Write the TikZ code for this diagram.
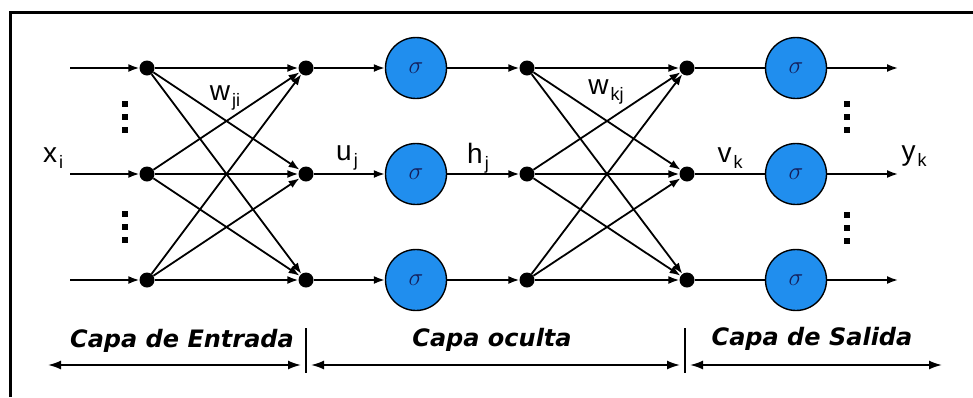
\documentclass[tikz,border=0pt]{standalone}
\usepackage{fontspec}
\setmainfont{Liberation Sans}
\newfontfamily\capfont{DejaVu Sans}
\usetikzlibrary{arrows.meta,positioning}
\definecolor{neuron}{RGB}{32,142,238}
\definecolor{sigink}{RGB}{20,30,90}
\newcommand{\sublbl}[2]{#1\kern2pt\raisebox{-6pt}{\fontsize{18}{18}\selectfont #2}}
\newcommand{\sqdot}{\rule{6pt}{6pt}}

\begin{document}
\begin{tikzpicture}[x=1pt,y=-1pt,
  font=\fontsize{28}{30}\selectfont,
  dot/.style={circle,fill=black,inner sep=0pt,minimum size=15pt},
  neu/.style={circle,draw=black,line width=1.4pt,fill=neuron,minimum size=61pt,inner sep=0pt,font=\fontsize{26}{26}\selectfont\color{sigink}},
  lbl/.style={inner sep=0pt},
  dts/.style={align=center,inner sep=0pt,font=\fontsize{13}{13}\selectfont},
  capt/.style={inner sep=0pt,font=\capfont\bfseries\itshape\fontsize{24}{26}\selectfont},
  arr/.style={-{Latex[length=11pt,width=8pt]},line width=1.8pt},
  ln/.style={line width=1.8pt},
  dim/.style={{Latex[length=13pt,width=9pt]}-{Latex[length=13pt,width=9pt]},line width=1.8pt}]
\useasboundingbox (0,0) rectangle (973,397);
% frame (cut off at right and bottom)
\draw[line width=3pt] (10,397) -- (10,12) -- (973,12);
% input layer
\coordinate (s1) at (70,68); \coordinate (s2) at (70,174); \coordinate (s3) at (70,280);
\node[dot] (i1) at (147,68) {}; \node[dot] (i2) at (147,174) {}; \node[dot] (i3) at (147,280) {};
\node[dot] (u1) at (306,68) {}; \node[dot] (u2) at (306,174) {}; \node[dot] (u3) at (306,280) {};
% hidden layer
\node[neu] (n1) at (416,68) {$\sigma$}; \node[neu] (n2) at (416,174) {$\sigma$}; \node[neu] (n3) at (416,280) {$\sigma$};
\node[dot] (h1) at (527,68) {}; \node[dot] (h2) at (527,174) {}; \node[dot] (h3) at (527,280) {};
% output layer
\node[dot] (v1) at (687,68) {}; \node[dot] (v2) at (687,174) {}; \node[dot] (v3) at (687,280) {};
\node[neu] (o1) at (796,68) {$\sigma$}; \node[neu] (o2) at (796,174) {$\sigma$}; \node[neu] (o3) at (796,280) {$\sigma$};
\coordinate (e1) at (898,68); \coordinate (e2) at (898,174); \coordinate (e3) at (898,280);
% dots
\node[dts] (d1) at (125,117) {\sqdot\\\sqdot\\\sqdot};
\node[dts] (d2) at (125,227) {\sqdot\\\sqdot\\\sqdot};
\node[dts] (d3) at (847,117) {\sqdot\\\sqdot\\\sqdot};
\node[dts] (d4) at (847,228) {\sqdot\\\sqdot\\\sqdot};
% labels
\node[lbl] (xi) at (53,158) {\sublbl{x}{i}};
\node[lbl] (wji) at (225,98) {\sublbl{w}{ji}};
\node[lbl] (uj) at (347,158) {\sublbl{u}{j}};
\node[lbl] (hj) at (478,158) {\sublbl{h}{j}};
\node[lbl] (wkj) at (606,92) {\sublbl{w}{kj}};
\node[lbl] (vk) at (730,158) {\sublbl{v}{k}};
\node[lbl] (yk) at (914,156) {\sublbl{y}{k}};
% connections
\draw[arr] (s1) -- (i1); \draw[arr] (s2) -- (i2); \draw[arr] (s3) -- (i3);
\draw[arr] (i1) -- (u1); \draw[arr] (i1) -- (u2); \draw[arr] (i1) -- (u3);
\draw[arr] (i2) -- (u1); \draw[arr] (i2) -- (u2); \draw[arr] (i2) -- (u3);
\draw[arr] (i3) -- (u1); \draw[arr] (i3) -- (u2); \draw[arr] (i3) -- (u3);
\draw[arr] (u1) -- (n1); \draw[arr] (u2) -- (n2); \draw[arr] (u3) -- (n3);
\draw[arr] (n1) -- (h1); \draw[arr] (n2) -- (h2); \draw[arr] (n3) -- (h3);
\draw[arr] (h1) -- (v1); \draw[arr] (h1) -- (v2); \draw[arr] (h1) -- (v3);
\draw[arr] (h2) -- (v1); \draw[arr] (h2) -- (v2); \draw[arr] (h2) -- (v3);
\draw[arr] (h3) -- (v1); \draw[arr] (h3) -- (v2); \draw[arr] (h3) -- (v3);
\draw[ln] (v1) -- (o1); \draw[ln] (v2) -- (o2); \draw[ln] (v3) -- (o3);
\draw[arr] (o1) -- (e1); \draw[arr] (o2) -- (e2); \draw[arr] (o3) -- (e3);
% layer captions
\node[capt] (ce) at (182,341) {Capa de Entrada};
\node[capt] (co) at (492,340) {Capa oculta};
\node[capt] (cs) at (812,339) {Capa de Salida};
\coordinate (a0) at (48,365); \coordinate (t1) at (306,365);
\coordinate (t2) at (685,365); \coordinate (a3) at (942,365);
\draw[ln] ([yshift=37pt]t1) -- ([yshift=-8pt]t1);
\draw[ln] ([yshift=37pt]t2) -- ([yshift=-8pt]t2);
\draw[dim,shorten >=5pt] (a0) -- (t1);
\draw[dim,shorten <=5pt,shorten >=5pt] (t1) -- (t2);
\draw[dim,shorten <=5pt] (t2) -- (a3);
\end{tikzpicture}
\end{document}
